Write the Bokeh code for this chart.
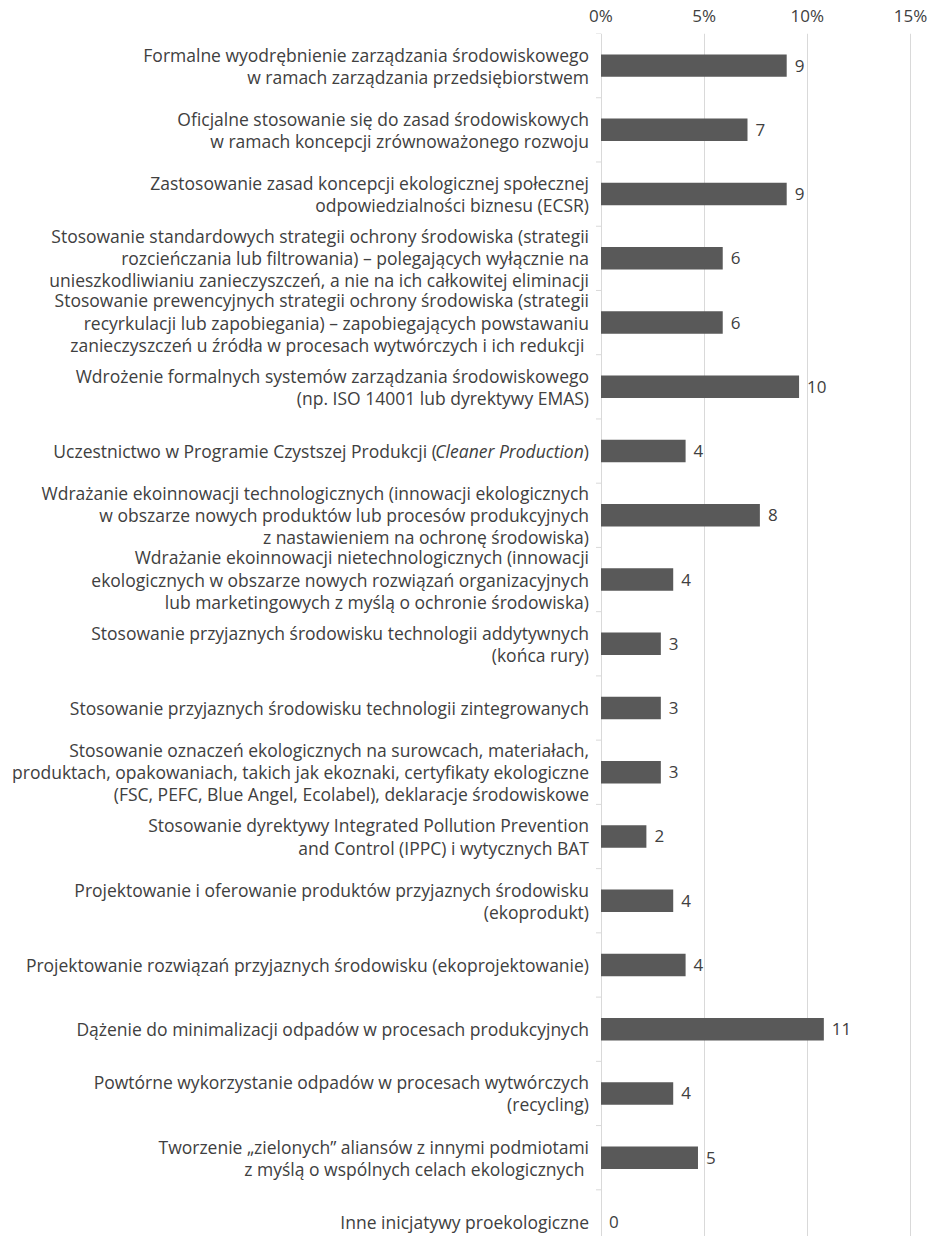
import math
from bokeh.plotting import figure
from bokeh.models import Range1d, FixedTicker, PrintfTickFormatter
from bokeh.core.properties import value
from bokeh.embed import file_html
from bokeh.resources import INLINE

categories = [
    "Formalne wyodrębnienie zarządzania środowiskowego\nw ramach zarządzania przedsiębiorstwem",
    "Oficjalne stosowanie się do zasad środowiskowych\nw ramach koncepcji zrównoważonego rozwoju",
    "Zastosowanie zasad koncepcji ekologicznej społecznej\nodpowiedzialności biznesu (ECSR)",
    "Stosowanie standardowych strategii ochrony środowiska (strategii\nrozcieńczania lub filtrowania) – polegających wyłącznie na\nunieszkodliwianiu zanieczyszczeń, a nie na ich całkowitej eliminacji",
    "Stosowanie prewencyjnych strategii ochrony środowiska (strategii\nrecyrkulacji lub zapobiegania) – zapobiegających powstawaniu\nzanieczyszczeń u źródła w procesach wytwórczych i ich redukcji ",
    "Wdrożenie formalnych systemów zarządzania środowiskowego\n(np. ISO 14001 lub dyrektywy EMAS)",
    "Uczestnictwo w Programie Czystszej Produkcji (Cleaner Production)",
    "Wdrażanie ekoinnowacji technologicznych (innowacji ekologicznych\nw obszarze nowych produktów lub procesów produkcyjnych\nz nastawieniem na ochronę środowiska)",
    "Wdrażanie ekoinnowacji nietechnologicznych (innowacji\nekologicznych w obszarze nowych rozwiązań organizacyjnych\nlub marketingowych z myślą o ochronie środowiska)",
    "Stosowanie przyjaznych środowisku technologii addytywnych\n(końca rury)",
    "Stosowanie przyjaznych środowisku technologii zintegrowanych",
    "Stosowanie oznaczeń ekologicznych na surowcach, materiałach,\nproduktach, opakowaniach, takich jak ekoznaki, certyfikaty ekologiczne\n(FSC, PEFC, Blue Angel, Ecolabel), deklaracje środowiskowe",
    "Stosowanie dyrektywy Integrated Pollution Prevention\nand Control (IPPC) i wytycznych BAT",
    "Projektowanie i oferowanie produktów przyjaznych środowisku\n(ekoprodukt)",
    "Projektowanie rozwiązań przyjaznych środowisku (ekoprojektowanie)",
    "Dążenie do minimalizacji odpadów w procesach produkcyjnych",
    "Powtórne wykorzystanie odpadów w procesach wytwórczych\n(recycling)",
    "Tworzenie „zielonych” aliansów z innymi podmiotami\nz myślą o wspólnych celach ekologicznych ",
    "Inne inicjatywy proekologiczne",
]
# bar lengths (percent of answers)
percents = [9.0, 7.1, 9.0, 5.9, 5.9, 9.6, 4.1, 7.7, 3.5, 2.9, 2.9, 2.9, 2.2, 3.5, 4.1, 10.8, 3.5, 4.7, 0.0]
# printed data labels
value_labels = ["9", "7", "9", "6", "6", "10", "4", "8", "4", "3", "3", "3", "2", "4", "4", "11", "4", "5", "0"]
x_ticks = [0, 5, 10, 15]

# the one label that mixes upright and italic text
italic_index = 6
italic_parts = ["Uczestnictwo w Programie Czystszej Produkcji (", "Cleaner Production", ")"]
italic_styles = ["normal", "italic", "normal"]

FONT = "Open Sans"
TXT = "#404040"
GRID = "#d9d9d9"
BAR = "#595959"
LAB_FS = 17.5
LAB_LH = 0.92
NUM_FS = 17
PART_W = [147.0, 5.2]   # approx. rendered widths of the italic part and ")"

n = len(categories)
pos = list(range(n))

W, H = 937, 1236
X0, X15 = 600.5, 910.0          # screen x of 0% and 15%
TOP = 30                        # screen y of plot top
BAND = 64.4                     # px per category row
ppu = (X15 - X0) / 15.0
p = figure(width=W, height=H, output_backend="svg", toolbar_location=None,
           x_range=Range1d(-X0 / ppu, 15 + (W - X15) / ppu),
           y_range=Range1d((H - TOP) / BAND - 0.5, -0.5),
           x_axis_location="above", y_axis_location=None,
           min_border_left=0, min_border_right=0,
           min_border_top=TOP, min_border_bottom=0)
p.outline_line_color = None
p.background_fill_color = "white"
p.border_fill_color = "white"

# grid (the 0% line doubles as the category axis line)
p.xgrid.ticker = FixedTicker(ticks=x_ticks)
p.xgrid.grid_line_color = GRID
p.ygrid.grid_line_color = None

# category separator ticks on the axis
p.ray(x=0, y=[i - 0.5 for i in pos], length=5, length_units="screen",
      angle=math.pi, line_color=GRID, line_width=1)

p.hbar(y=pos, right=percents, left=0, height=0.35, fill_color=BAR, line_color=None)

p.text(x=percents, y=pos, text=value_labels, x_offset=8, text_align="left",
       text_baseline="middle", text_font=value(FONT), text_font_size=f"{NUM_FS}px",
       text_color=TXT)

# category labels
plain_idx = [i for i in pos if i != italic_index]
p.text(x=0, y=[pos[i] for i in plain_idx], text=[categories[i] for i in plain_idx],
       x_offset=-12, text_align="right", text_baseline="middle",
       text_font=value(FONT), text_font_size=f"{LAB_FS}px",
       text_line_height=LAB_LH, text_color=TXT)

offs = [-12 - PART_W[1] - PART_W[0], -12 - PART_W[1], -12]
for part, style, off in zip(italic_parts, italic_styles, offs):
    p.text(x=0, y=[pos[italic_index]], text=[part], x_offset=off, text_align="right",
           text_baseline="middle", text_font=value(FONT), text_font_size=f"{LAB_FS}px",
           text_font_style=style, text_color=TXT)

# top axis
xa = p.xaxis[0]
xa.ticker = FixedTicker(ticks=x_ticks)
xa.formatter = PrintfTickFormatter(format="%d%%")
xa.axis_line_color = None
xa.major_tick_line_color = None
xa.minor_tick_line_color = None
xa.major_tick_out = 0
xa.major_tick_in = 0
xa.major_label_standoff = 7
xa.major_label_text_font = FONT
xa.major_label_text_font_size = f"{NUM_FS}px"
xa.major_label_text_color = TXT

open("out.html", "w").write(file_html(p, INLINE))
